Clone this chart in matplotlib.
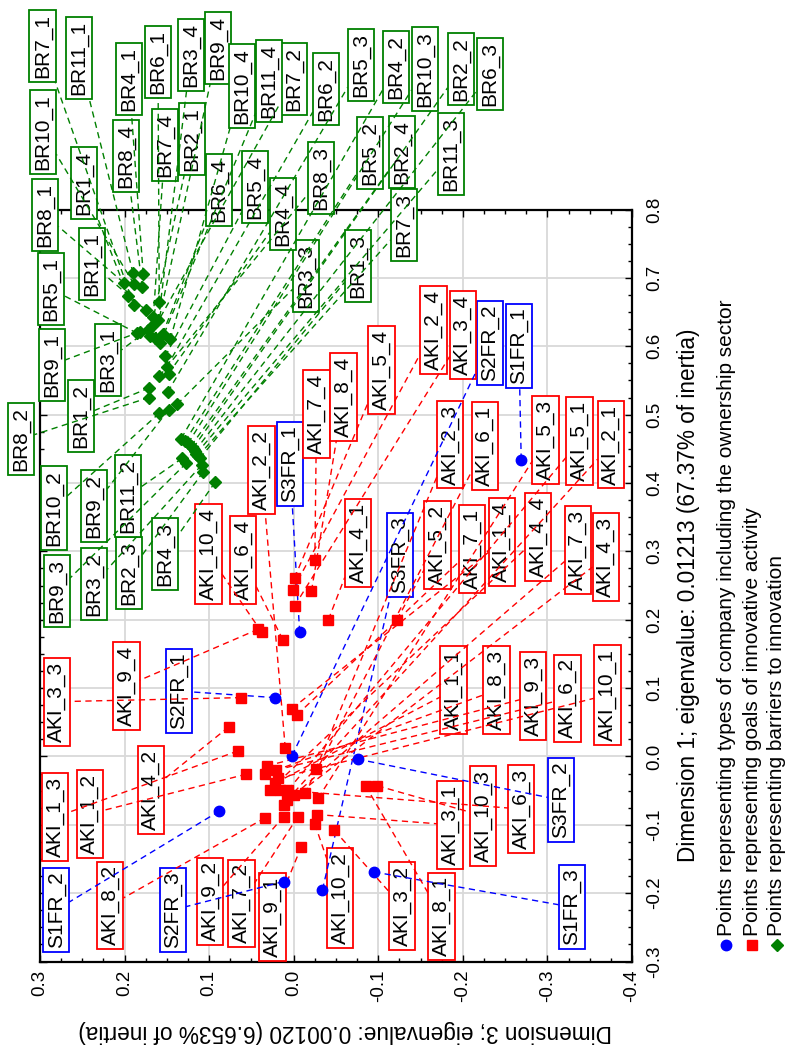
import matplotlib
matplotlib.use("Agg")
import matplotlib.pyplot as plt
from matplotlib.ticker import MultipleLocator, FormatStrFormatter
import numpy as np

plt.rcParams['font.family'] = ['Liberation Sans', 'DejaVu Sans']
plt.rcParams['axes.unicode_minus'] = False

# ---------------------------------------------------------------
# Correspondence analysis: coordinates on Dimension 1 and Dimension 3
# ---------------------------------------------------------------

# Types of company including the ownership sector
sector_names = ["S1FR_1", "S1FR_2", "S1FR_3", "S2FR_1", "S2FR_2",
                "S2FR_3", "S3FR_1", "S3FR_2", "S3FR_3"]
sector_dim1 = [0.434, -0.080, -0.169, 0.086, 0.001, -0.183, 0.182, -0.004, -0.195]
sector_dim3 = [-0.269, 0.088, -0.095, 0.022, 0.002, 0.012, -0.007, -0.0755, -0.034]

# Goals of innovative activity
goal_names = [f"AKI_{i}_{j}" for i in range(1, 11) for j in range(1, 5)]
goal_dim1 = [-0.039, -0.026, 0.008, 0.070, -0.064, 0.012, -0.019, 0.244,
             -0.085, -0.108, 0.086, 0.220, 0.200, 0.043, -0.071, -0.049,
             -0.049, 0.200, -0.061, 0.261, -0.054, -0.020, -0.049, 0.171,
             0.061, -0.088, -0.057, 0.288, -0.043, -0.090, -0.026, 0.242,
             -0.132, -0.088, -0.014, 0.186, -0.032, -0.099, -0.043, 0.182]
goal_dim3 = [0.022, 0.056, 0.066, 0.002, 0.008, 0.010, -0.026, 0.001,
             -0.027, -0.048, 0.062, -0.001, -0.041, 0.077, 0.012, 0.028,
             0.0065, -0.122, -0.029, -0.001, -0.013, 0.021, 0.016, 0.013,
             -0.004, -0.005, 0.000, -0.025, -0.085, 0.034, 0.034, -0.021,
             -0.009, 0.012, 0.032, 0.042, 0.018, -0.025, -0.099, 0.038]

# Barriers to innovation
barrier_names = [f"BR{i}_{j}" for i in range(1, 12) for j in range(1, 5)]
barrier_dim1 = [0.653, 0.539, 0.436, 0.674, 0.630, 0.451, 0.416, 0.454,
                0.624, 0.426, 0.515, 0.638, 0.706, 0.465, 0.401, 0.560,
                0.619, 0.461, 0.533, 0.585, 0.665, 0.570, 0.447, 0.618,
                0.660, 0.615, 0.439, 0.643, 0.693, 0.525, 0.556, 0.686,
                0.621, 0.507, 0.429, 0.612, 0.691, 0.502, 0.458, 0.610,
                0.707, 0.436, 0.443, 0.604]
barrier_dim3 = [0.175, 0.171, 0.111, 0.196, 0.168, 0.119, 0.107, 0.1215,
                0.172, 0.109, 0.138, 0.160, 0.178, 0.133, 0.093, 0.148,
                0.185, 0.1286, 0.149, 0.152, 0.159, 0.150, 0.1168, 0.155,
                0.189, 0.170, 0.1132, 0.166, 0.201, 0.171, 0.159, 0.179,
                0.182, 0.148, 0.127, 0.164, 0.189, 0.159, 0.125, 0.146,
                0.190, 0.132, 0.115, 0.158]

legend_texts = ["Points representing types of company including the ownership sector",
                "Points representing goals of innovative activity",
                "Points representing barriers to innovation"]
dim1_title = "Dimension 1; eigenvalue: 0.01213 (67.37% of inertia)"
dim3_title = "Dimension 3; eigenvalue: 0.00120 (6.653% of inertia)"

# ---------------------------------------------------------------
# Label placement (Dimension 3, Dimension 1) of each callout box
# ---------------------------------------------------------------
sector_lab_d3 = [-0.2662, 0.281, -0.3288, 0.1357, -0.2319, 0.1428, 0.0045, -0.3158, -0.1255]
sector_lab_d1 = [0.6003, -0.2247, -0.2204, 0.0956, 0.6047, -0.2247, 0.4277, -0.0638, 0.2946]

goal_lab_d3 = [-0.189, 0.241, 0.282, -0.246, -0.375, 0.038, -0.185, -0.165,
               -0.185, -0.128, 0.280, -0.200, -0.076, 0.169, -0.369, -0.289,
               -0.338, -0.170, -0.298, -0.104, -0.226, -0.324, -0.269, 0.060,
               -0.211, 0.062, -0.336, -0.027, -0.175, 0.217, -0.240, -0.059,
               0.025, 0.099, -0.283, 0.198, -0.371, -0.055, -0.224, 0.101]
goal_lab_d1 = [0.097, -0.084, -0.089, 0.314, 0.456, 0.419, 0.456, 0.624,
               -0.100, -0.219, 0.080, 0.616, 0.312, -0.049, 0.292, 0.321,
               0.461, 0.309, 0.463, 0.565, 0.454, 0.085, -0.077, 0.287,
               0.303, -0.215, 0.302, 0.501, -0.234, -0.218, 0.097, 0.526,
               -0.235, -0.212, 0.088, 0.103, 0.090, -0.207, -0.087, 0.296]

barrier_lab_d3 = [0.2385, 0.2515, -0.0759, 0.248, 0.1203, -0.1976, 0.1948, -0.1279,
                  0.2196, 0.2362, -0.0144, 0.1215, 0.1948, -0.1208, 0.1522, 0.0128,
                  0.287, -0.0901, -0.0794, 0.0459, 0.1605, -0.0381, -0.2319, 0.0884,
                  0.297, 0.0, -0.1303, 0.1522, 0.294, 0.3225, -0.0322, 0.1983,
                  0.286, 0.2362, 0.280, 0.0896, 0.2965, 0.2835, -0.1551, 0.0612,
                  0.2539, 0.196, -0.1858, 0.0293]
barrier_lab_d1 = [0.7203, 0.4979, 0.7173, 0.8387, 0.9031, 1.0055, 0.2683, 0.884,
                  0.5798, 0.2522, 0.7027, 1.026, 0.9909, 1.0084, 0.296, 0.7934,
                  0.6837, 0.8826, 1.0114, 0.8328, 1.0158, 0.9763, 0.9982, 0.8284,
                  1.0392, 0.9909, 0.7773, 0.8943, 0.7919, 0.4643, 0.846, 0.8782,
                  0.5725, 0.3663, 0.2419, 1.0362, 0.9134, 0.3634, 1.0055, 0.9807,
                  1.0216, 0.3809, 0.8811, 0.988]

BLUE, RED, GREEN = "#0000ff", "#ff0000", "#008000"
LABEL_SIZE = 15

W, H = 791, 1047
fig = plt.figure(figsize=(W / 100, H / 100), dpi=100)
fig.patch.set_facecolor("white")

# The chart is laid out sideways: Dimension 3 runs horizontally (decreasing
# to the right), Dimension 1 runs vertically.
ax = fig.add_axes([40 / W, 1 - 961.5 / H, 592 / W, 752 / H])
ax.set_xlim(0.3, -0.4)
ax.set_ylim(-0.3, 0.8)

ax.xaxis.set_major_locator(MultipleLocator(0.1))
ax.xaxis.set_minor_locator(MultipleLocator(0.025))
ax.yaxis.set_major_locator(MultipleLocator(0.1))
ax.yaxis.set_minor_locator(MultipleLocator(0.025))
ax.xaxis.set_major_formatter(FormatStrFormatter("%.1f"))
ax.yaxis.set_major_formatter(FormatStrFormatter("%.1f"))
ax.yaxis.tick_right()
ax.tick_params(which="both", direction="in", top=True, bottom=True,
               left=True, right=True, width=1.0, color="black")
ax.tick_params(which="major", length=5)
ax.tick_params(which="minor", length=3)
ax.tick_params(axis="x", which="major", labelrotation=90, labelsize=13.5, pad=6)
ax.tick_params(axis="y", which="major", labelrotation=90, labelsize=13.5, pad=10,
               labelleft=False, labelright=True)
for lab in ax.get_yticklabels():
    lab.set_verticalalignment("center")
for sp in ax.spines.values():
    sp.set_linewidth(1.6)
ax.grid(True, which="major", color="#d9d9d9", lw=1.3)
ax.set_axisbelow(True)

groups = [
    (sector_names, sector_dim1, sector_dim3, sector_lab_d1, sector_lab_d3, BLUE, "o", 7.5),
    (goal_names, goal_dim1, goal_dim3, goal_lab_d1, goal_lab_d3, RED, "s", 7.5),
    (barrier_names, barrier_dim1, barrier_dim3, barrier_lab_d1, barrier_lab_d3, GREEN, "D", 6.0),
]

# Callout boxes
label_artists = []
for names, d1, d3, ld1, ld3, col, mk, ms in groups:
    for name, p1, p3, l1, l3 in zip(names, d1, d3, ld1, ld3):
        t = ax.text(l3, l1, name, rotation=90, ha="center", va="center",
                    fontsize=LABEL_SIZE, color="black", clip_on=False, zorder=3,
                    bbox=dict(boxstyle="square,pad=0.18", fc="white", ec=col, lw=1.3))
        label_artists.append((t, p1, p3, col))

fig.canvas.draw()
renderer = fig.canvas.get_renderer()
inv = ax.transData.inverted()

# Dashed leader lines from each point to the edge of its box
for t, p1, p3, col in label_artists:
    bb = t.get_bbox_patch().get_window_extent(renderer)
    cx, cy = (bb.x0 + bb.x1) / 2, (bb.y0 + bb.y1) / 2
    hw, hh = bb.width / 2, bb.height / 2
    px, py = ax.transData.transform((p3, p1))
    dx, dy = px - cx, py - cy
    if abs(dx) <= hw and abs(dy) <= hh:
        continue
    s = min(hw / abs(dx) if dx else np.inf, hh / abs(dy) if dy else np.inf)
    ex, ey = cx + s * dx, cy + s * dy
    (e3, e1) = inv.transform((ex, ey))
    ax.plot([p3, e3], [p1, e1], color=col, lw=1.0, ls=(0, (4.5, 3.2)),
            clip_on=False, zorder=4)

# Points
for names, d1, d3, ld1, ld3, col, mk, ms in groups:
    ax.plot(d3, d1, ls="none", marker=mk, ms=ms, color=col, mec=col,
            clip_on=False, zorder=5)

# Axis titles and legend drawn in pixel space around the rotated plot
ov = fig.add_axes([0, 0, 1, 1], zorder=-1)
ov.set_xlim(0, W)
ov.set_ylim(H, 0)
ov.axis("off")

ov.text(689, 595, dim1_title, rotation=90, ha="center", va="center", fontsize=16.3)
ov.text(345, 1031, dim3_title, rotation=180, ha="center", va="center", fontsize=16.3)

leg_x = [726, 752, 777]
leg_style = [(BLUE, "o", 7.5), (RED, "s", 7.5), (GREEN, "D", 6.0)]
for x, txt, (col, mk, ms) in zip(leg_x, legend_texts, leg_style):
    ov.plot([x], [945], marker=mk, ms=ms, color=col, ls="none")
    ov.text(x, 936, txt, rotation=90, ha="center", va="bottom", fontsize=15)

fig.savefig("out.png", dpi=100, facecolor="white")
